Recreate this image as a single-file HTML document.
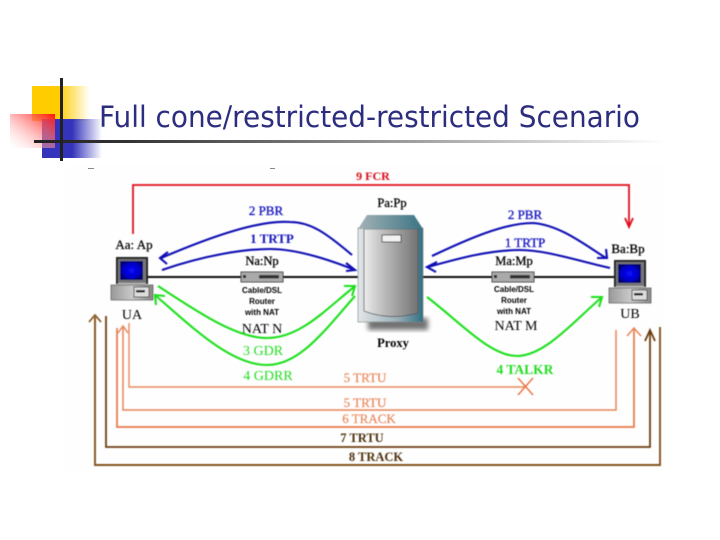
<!DOCTYPE html>
<html><head><meta charset="utf-8"><style>html,body{margin:0;padding:0;background:#fff}svg{display:block}</style></head><body>
<svg width="720" height="540" viewBox="0 0 720 540" xmlns="http://www.w3.org/2000/svg">
<defs>
<linearGradient id="y" x1="0" x2="1" y1="0" y2="0"><stop offset="0.45" stop-color="#ffcc00"/><stop offset="1" stop-color="#ffcc00" stop-opacity="0"/></linearGradient>
<linearGradient id="b" x1="0" x2="1" y1="0" y2="0"><stop offset="0.5" stop-color="#3333bb"/><stop offset="1" stop-color="#3333bb" stop-opacity="0"/></linearGradient>
<linearGradient id="r" x1="1" x2="0" y1="0" y2="1"><stop offset="0" stop-color="#ff1111"/><stop offset="1" stop-color="#ffffff" stop-opacity="0.2"/></linearGradient>
<linearGradient id="l" x1="0" x2="1" y1="0" y2="0"><stop offset="0" stop-color="#222"/><stop offset="0.15" stop-color="#333"/><stop offset="1" stop-color="#fff"/></linearGradient>
<linearGradient id="srv" x1="0" x2="1" y1="0" y2="0"><stop offset="0" stop-color="#ececec"/><stop offset="0.3" stop-color="#c4c4c4"/><stop offset="1" stop-color="#737373"/></linearGradient>
<linearGradient id="frm" x1="0" x2="1" y1="0" y2="0"><stop offset="0" stop-color="#e2e6e8"/><stop offset="0.6" stop-color="#9ab0b8"/><stop offset="1" stop-color="#2f6f82"/></linearGradient>
<linearGradient id="cap" x1="0" x2="1" y1="0" y2="0"><stop offset="0" stop-color="#a4b2b6"/><stop offset="1" stop-color="#3a7484"/></linearGradient>
<radialGradient id="scr"><stop offset="0" stop-color="#0a0aff"/><stop offset="0.8" stop-color="#0000c0"/><stop offset="1" stop-color="#000070"/></radialGradient>
<linearGradient id="bs" x1="0" x2="1" y1="0" y2="0"><stop offset="0" stop-color="#999"/><stop offset="0.5" stop-color="#c8c8c8"/><stop offset="1" stop-color="#888"/></linearGradient>
<filter id="soft" x="-5%" y="-5%" width="110%" height="110%"><feGaussianBlur stdDeviation="0.45"/></filter>
<filter id="sh" x="-20%" y="-20%" width="140%" height="140%"><feGaussianBlur stdDeviation="2.5"/></filter>
<g id="pc">
<rect x="5" y="0" width="32" height="27" fill="#222"/>
<rect x="7" y="2" width="28" height="24" fill="#777"/>
<rect x="9" y="4" width="23" height="19" fill="url(#scr)"/>
<rect x="7" y="26" width="28" height="2" fill="#bbb"/>
<rect x="0" y="28" width="42" height="15" fill="url(#bs)" stroke="#555" stroke-width="0.7"/>
<rect x="23" y="30" width="15" height="10" fill="#ddd" stroke="#333" stroke-width="0.8"/>
<rect x="25" y="33" width="9" height="2.5" fill="#222"/>
</g>
<g id="rt">
<rect x="0" y="0" width="42" height="10" fill="#aaa" stroke="#333" stroke-width="0.9"/>
<rect x="18" y="3" width="20" height="3.5" fill="#333"/>
<rect x="2" y="3" width="3" height="3" fill="#222"/>
</g>
</defs>

<rect x="32" y="86" width="58" height="35" fill="url(#y)"/>
<rect x="42" y="119" width="60" height="39" fill="url(#b)"/>
<rect x="10" y="114" width="45" height="34" fill="url(#r)"/>
<rect x="34" y="140" width="630" height="3" fill="url(#l)"/>
<rect x="60" y="78" width="3" height="83" fill="#222"/>
<text x="99" y="127" font-family="DejaVu Sans, sans-serif" font-size="29" fill="#2d2d80" textLength="541" lengthAdjust="spacingAndGlyphs">Full cone/restricted-restricted Scenario</text>

<rect x="65" y="165" width="600" height="305" fill="#fefefe"/>
<rect x="88" y="168" width="6" height="1" fill="#888"/><rect x="270" y="168" width="5" height="1" fill="#888"/>

<g filter="url(#soft)">
<!-- proxy -->
<rect x="368" y="318" width="60" height="12" fill="#444" opacity="0.75" filter="url(#sh)"/>
<rect x="358" y="228" width="65" height="94" fill="url(#frm)" stroke="#777" stroke-width="0.6"/>
<path d="M364 229 V311 Q390 321 418 313 V229 Z" fill="url(#srv)" stroke="#555" stroke-width="0.8"/>
<path d="M367 215 H414 L423 229 H358 Z" fill="url(#cap)"/>
<rect x="382" y="235" width="19" height="7" fill="#f2f2f2" stroke="#444" stroke-width="1"/>

<!-- net -->
<path d="M148 277 H358 M423 277 H615" stroke="#0a0a0a" stroke-width="1.9" fill="none"/>
<use href="#rt" x="241" y="272"/>
<use href="#rt" x="492" y="272"/>
<use href="#pc" x="111" y="257"/>
<use href="#pc" x="609" y="260"/>

<!-- red -->
<path d="M133 234 V185 H629 V226" stroke="#e0101c" stroke-width="1.8" fill="none"/>
<path d="M625 218 L629 227 L633 218" stroke="#e0101c" stroke-width="1.8" fill="none"/>

<!-- blue -->
<g stroke="#0c0cb4" stroke-width="2.1" fill="none">
<path d="M352 255 C325 232 310 222 290 222 C260 220 215 235 161 258"/>
<path d="M168 252 L160 258 L167 264"/>
<path d="M162 270 C205 255 245 249 270 249 C295 249 325 258 355 270"/>
<path d="M346 263 L355 270 L346 271"/>
<path d="M432 256 C470 238 505 223 533 223 C560 225 585 245 606 258"/>
<path d="M606 249 L607 258 L597 258"/>
<path d="M610 268 C575 260 545 250 520 250 C490 250 460 258 428 267"/>
<path d="M437 262 L427 267 L436 272"/>
</g>

<!-- green -->
<g stroke="#1de01d" stroke-width="2.1" fill="none">
<path d="M158 286 C195 310 235 338 267 338 C300 338 325 310 354 287"/>
<path d="M344 286 L355 286 L352 296"/>
<path d="M355 296 C325 330 300 365 267 365 C230 365 190 325 156 296"/>
<path d="M156 305 L155 295 L165 296"/>
<path d="M427 297 C460 322 490 356 517 356 C545 356 575 320 601 298"/>
<path d="M591 297 L602 297 L599 307"/>
</g>

<!-- lines -->
<g fill="none">
<path d="M129 323 V387 H525" stroke="#e88a5e" stroke-width="1.4"/>
<path d="M518 378 L533 395 M533 378 L518 395" stroke="#e8703c" stroke-width="1.4"/>
<path d="M123 327 V410 H616 V330" stroke="#e8855a" stroke-width="1.5"/>
<path d="M117 328 V427 H634 V329" stroke="#e87848" stroke-width="1.7"/>
<path d="M118 333 L123 326 L128 333" stroke="#e8855a" stroke-width="1.5"/>
<path d="M627 336 L634 328 L641 336" stroke="#e8855a" stroke-width="1.5"/>
<path d="M106 316 V447 H650 V331" stroke="#6e3e10" stroke-width="1.8"/>
<path d="M645 341 L650 330 L655 341" stroke="#6e3e10" stroke-width="1.8"/>
<path d="M95 317 V465 H660 V327" stroke="#84521e" stroke-width="1.9"/>
<path d="M89 322 L95 315 L101 322" stroke="#84521e" stroke-width="1.7"/>
</g>

<!-- labels -->
<g font-family="Liberation Serif, serif" font-size="13" text-anchor="middle" font-weight="bold">
<g fill="#000">
<text x="134" y="249" font-weight="normal" stroke="#000" stroke-width="0.25">Aa: Ap</text>
<text x="392" y="207" font-size="12.5" font-weight="normal" stroke="#000" stroke-width="0.3">Pa:Pp</text>
<text x="262" y="265" font-size="12.5" font-weight="normal" stroke="#000" stroke-width="0.3">Na:Np</text>
<text x="514" y="265" font-size="12.5" font-weight="normal" stroke="#000" stroke-width="0.3">Ma:Mp</text>
<text x="628" y="253" font-weight="normal" stroke="#000" stroke-width="0.3">Ba:Bp</text>
<text x="132" y="319" font-weight="normal" font-size="14">UA</text>
<text x="630" y="318" font-weight="normal" font-size="14">UB</text>
<text x="262" y="333" font-size="14" font-weight="normal">NAT N</text>
<text x="516" y="330" font-size="14" font-weight="normal">NAT M</text>
<text x="393" y="347" font-size="12.5">Proxy</text>
</g>
<g font-family="Liberation Sans, sans-serif" font-size="8" font-weight="bold" fill="#000">
<text x="262" y="293">Cable/DSL</text><text x="262" y="304">Router</text><text x="262" y="315">with NAT</text>
<text x="514" y="292">Cable/DSL</text><text x="514" y="303">Router</text><text x="514" y="314">with NAT</text>
</g>
<text x="373" y="180" fill="#d8101c" font-size="12">9 FCR</text>
<g fill="#1414c0">
<text x="266" y="215" font-weight="normal" stroke="#1414c0" stroke-width="0.3">2 PBR</text>
<text x="272" y="243">1 TRTP</text>
<text x="525" y="219" font-weight="normal" stroke="#1414c0" stroke-width="0.3">2 PBR</text>
<text x="525" y="247" font-weight="normal" stroke="#1414c0" stroke-width="0.3">1 TRTP</text>
</g>
<g fill="#22dd22" font-size="14" font-weight="normal">
<text x="263" y="355">3 GDR</text>
<text x="268" y="380">4 GDRR</text>
<text x="525" y="374" font-weight="bold" font-size="13.5">4 TALKR</text>
</g>
<g fill="#e88a60" font-weight="normal" stroke="#e88a60" stroke-width="0.2">
<text x="365" y="382">5 TRTU</text>
<text x="365" y="407">5 TRTU</text>
<text x="369" y="423">6 TRACK</text>
</g>
<g fill="#4d3010" font-size="12.5">
<text x="362" y="442">7 TRTU</text>
<text x="376" y="461">8 TRACK</text>
</g>
</g>
</g>
</svg>
</body></html>
